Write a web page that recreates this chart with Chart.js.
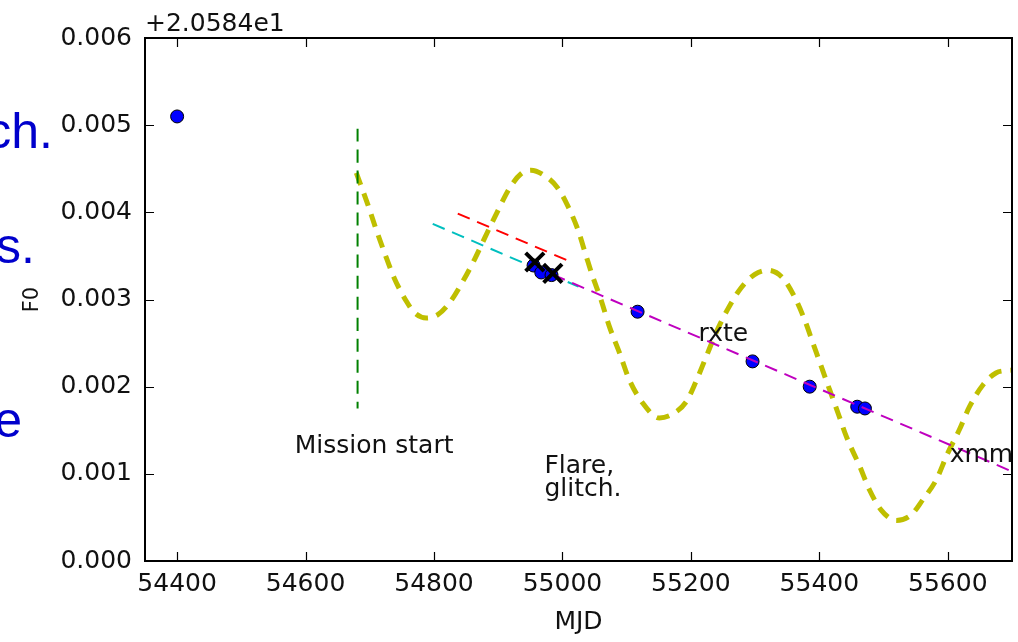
<!DOCTYPE html>
<html>
<head>
<meta charset="utf-8">
<script src="https://cdn.jsdelivr.net/npm/chart.js@4.4.1/dist/chart.umd.min.js"></script>
<style>
  body { margin: 0; background: #fff; }
  #wrap { position: relative; width: 1018px; height: 642px; overflow: hidden; }
  canvas { display: block; }
  .slide { position: absolute; font-family: 'Liberation Sans', Arial, sans-serif; font-size: 50px; line-height: 50px; color: #0000cc; white-space: nowrap; }
</style>
</head>
<body>
<div id="wrap">
  <canvas id="f0" width="1018" height="642"></canvas>
  <div class="slide" style="right:965px; top:106px;">ch.</div>
  <div class="slide" style="right:983px; top:221px;">s.</div>
  <div class="slide" style="right:996px; top:395px;">e</div>
</div>
<script>
// axis ticks (F0 shown as offset from 20.584)
const xTicks = [54400, 54600, 54800, 55000, 55200, 55400, 55600];
const yTicks = [0.000, 0.001, 0.002, 0.003, 0.004, 0.005, 0.006];
const offsetLabel = '+2.0584e1';

// measured points
const obsMJD = [54400, 54955, 54967, 54983, 55117, 55296, 55385, 55459, 55471];
const obsF0  = [0.00510, 0.00339, 0.00331, 0.00328, 0.00286, 0.00229, 0.00200, 0.00177, 0.00175];

// glitch epochs (black crosses)
const glitchMJD = [54957, 54985];
const glitchF0  = [0.00343, 0.00330];

// linear fits
const cyanMJD = [54798, 55025];
const cyanF0  = [0.003868, 0.003148];
const redMJD  = [54837, 55011];
const redF0   = [0.003986, 0.003438];
const magMJD  = [54985, 55700];
const magF0   = [0.003285, 0.001027];

// mission start marker
const startMJD = [54681, 54681];
const startF0  = [0.00496, 0.00175];

// yellow model curve
const curveMJD = [54679, 54697, 54710, 54723, 54738, 54757, 54770, 54788, 54806, 54824,
  54845, 54863, 54879, 54899, 54918, 54936, 54951, 54977, 54992, 55006,
  55024, 55037, 55047, 55060, 55073, 55089, 55104, 55125, 55151, 55174,
  55193, 55208, 55224, 55239, 55257, 55278, 55299, 55320, 55343, 55361,
  55377, 55390, 55403, 55416, 55431, 55442, 55463, 55478, 55496, 55520,
  55543, 55561, 55582, 55600, 55618, 55634, 55655, 55675, 55693, 55700];
const curveF0 = [0.004453, 0.004089, 0.003802, 0.003535, 0.003248, 0.002979, 0.002846, 0.002788, 0.002826, 0.002960,
  0.003209, 0.003458, 0.003707, 0.004012, 0.004281, 0.004445, 0.004483, 0.004396, 0.004285, 0.004109,
  0.003802, 0.003496, 0.003266, 0.002998, 0.002692, 0.002386, 0.002080, 0.001812, 0.001640, 0.001697,
  0.001830, 0.002060, 0.002347, 0.002616, 0.002884, 0.003133, 0.003285, 0.003335, 0.003248, 0.003036,
  0.002769, 0.002501, 0.002232, 0.001965, 0.001658, 0.001429, 0.001084, 0.000817, 0.000587, 0.000464,
  0.000529, 0.000702, 0.000931, 0.001238, 0.001505, 0.001773, 0.002022, 0.002157, 0.002186, 0.002190];

// annotations
const noteText = ['Mission start', 'Flare,', 'glitch.', 'rxte', 'xmm'];
const noteMJD  = [54583, 54972, 54972, 55212, 55603];
const noteF0   = [0.00124, 0.00101, 0.00074, 0.00252, 0.00114];

const pts = (xs, ys) => xs.map((v, i) => ({ x: v, y: ys[i] }));
const FONT = '"DejaVu Sans", sans-serif';

function lineSet(xs, ys, color, width, dash, order) {
  return {
    data: pts(xs, ys), showLine: true, borderColor: color, borderWidth: width,
    borderDash: dash, pointRadius: 0, fill: false, order: order
  };
}

const frame = {
  id: 'frame',
  afterDatasetsDraw(chart) {
    const { ctx, chartArea: a, scales: { x, y } } = chart;
    ctx.save();
    ctx.fillStyle = '#111';
    ctx.font = '25px ' + FONT;
    ctx.textBaseline = 'alphabetic';
    ctx.textAlign = 'left';
    noteText.forEach((t, i) => ctx.fillText(t, x.getPixelForValue(noteMJD[i]), y.getPixelForValue(noteF0[i])));
    ctx.fillText(offsetLabel, a.left, a.top - 7);

    ctx.strokeStyle = '#000';
    ctx.lineWidth = 1.2;
    ctx.beginPath();
    xTicks.forEach(v => {
      const px = Math.round(x.getPixelForValue(v)) + 0.5;
      ctx.moveTo(px, a.bottom); ctx.lineTo(px, a.bottom - 9);
      ctx.moveTo(px, a.top); ctx.lineTo(px, a.top + 9);
    });
    yTicks.forEach(v => {
      const py = Math.round(y.getPixelForValue(v)) + 0.5;
      ctx.moveTo(a.left, py); ctx.lineTo(a.left + 9, py);
      ctx.moveTo(a.right, py); ctx.lineTo(a.right - 9, py);
    });
    ctx.stroke();
    ctx.lineWidth = 2;
    ctx.strokeRect(a.left, a.top, a.right - a.left, a.bottom - a.top);
    ctx.restore();
  }
};

new Chart(document.getElementById('f0'), {
  type: 'scatter',
  data: {
    datasets: [
      lineSet(curveMJD, curveF0, '#bfbf00', 5, [13, 9], 7),
      lineSet(startMJD, startF0, '#008000', 2, [13, 8], 6),
      lineSet(cyanMJD, cyanF0, '#00bfbf', 2, [13, 8], 5),
      lineSet(redMJD, redF0, '#ff0000', 2, [13, 8], 4),
      {
        data: pts(obsMJD, obsF0), pointRadius: 6.5, pointBackgroundColor: '#0000ff',
        pointBorderColor: '#000', pointBorderWidth: 1, order: 3
      },
      lineSet(magMJD, magF0, '#bf00bf', 2, [13, 8], 2),
      {
        data: pts(glitchMJD, glitchF0), pointStyle: 'crossRot', pointRadius: 13,
        pointBorderColor: '#000', pointBorderWidth: 4, order: 1
      }
    ]
  },
  options: {
    responsive: false,
    animation: false,
    layout: { autoPadding: false, padding: { top: 38, right: 6, left: 0, bottom: 0 } },
    elements: { line: { cubicInterpolationMode: 'monotone' } },
    plugins: { legend: { display: false }, tooltip: { enabled: false } },
    scales: {
      x: {
        type: 'linear', min: 54350, max: 55700,
        afterBuildTicks: s => { s.ticks = xTicks.map(v => ({ value: v })); },
        afterFit: s => { s.height = 81; s.paddingLeft = 0; s.paddingRight = 0; },
        grid: { display: false, drawTicks: false },
        border: { display: false },
        ticks: { color: '#111', font: { family: FONT, size: 25 }, padding: 8, maxRotation: 0, callback: v => String(v) },
        title: { display: true, text: 'MJD', color: '#111', font: { family: FONT, size: 25 }, padding: { top: 0, bottom: 5 } }
      },
      y: {
        type: 'linear', min: 0, max: 0.006,
        afterBuildTicks: s => { s.ticks = yTicks.map(v => ({ value: v })); },
        afterFit: s => { s.width = 145; s.paddingTop = 0; s.paddingBottom = 0; },
        grid: { display: false, drawTicks: false },
        border: { display: false },
        ticks: { color: '#111', font: { family: FONT, size: 25 }, padding: 13, callback: v => v.toFixed(3) },
        title: { display: true, text: 'F0', color: '#111', font: { family: FONT, size: 21 }, padding: { top: 20, bottom: 0 } }
      }
    }
  },
  plugins: [frame]
});
</script>
</body>
</html>
